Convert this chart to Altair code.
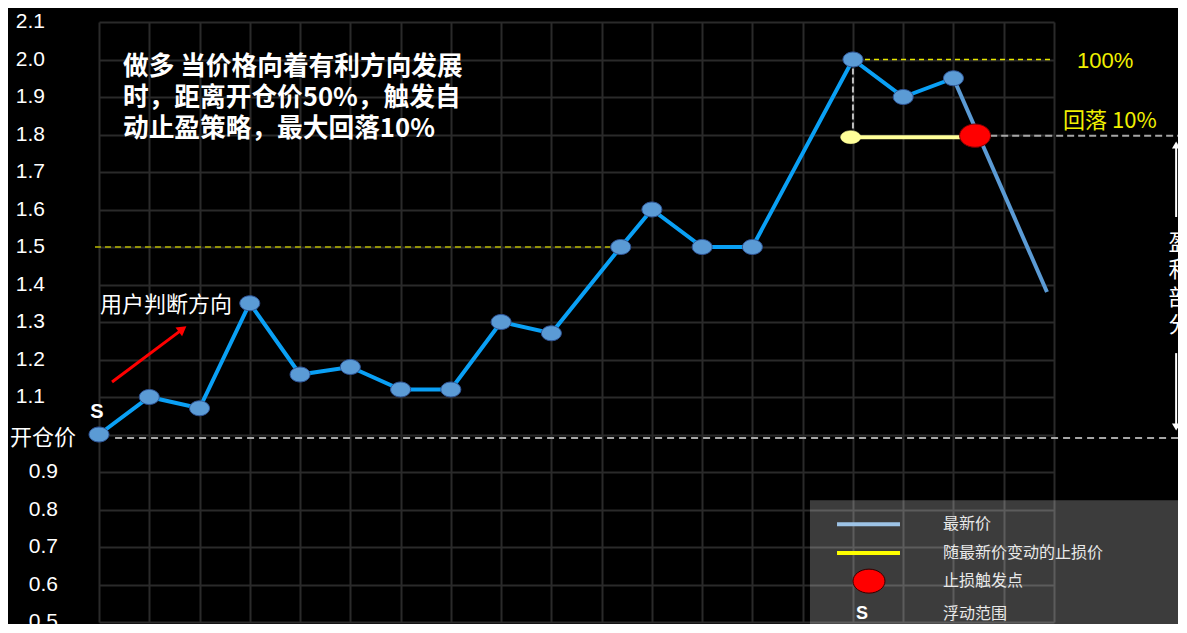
import altair as alt
import pandas as pd

# ---------------- data ----------------
price_x = [0, 1, 2, 3, 4, 5, 6, 7, 8, 9, 10.38, 11, 12, 13, 15, 16, 17]
price_y = [1.0, 1.1, 1.07, 1.35, 1.16, 1.18, 1.12, 1.12, 1.3, 1.27, 1.5, 1.6, 1.5, 1.5, 2.0, 1.9, 1.95]
tail_x = [17, 18.86]
tail_y = [1.95, 1.38]
stop_x = [14.955, 17.43]
stop_y = [1.793, 1.793]
stop_start_x = [14.955]
stop_start_y = [1.793]
trigger_x = [17.43]
trigger_y = [1.797]

grid_x = list(range(20))
grid_y = [0.5, 0.6, 0.7, 0.8, 0.9, 1.0, 1.1, 1.2, 1.3, 1.4, 1.5, 1.6, 1.7, 1.8, 1.9, 2.0, 2.1]
ytick_upper = ["2.1", "2.0", "1.9", "1.8", "1.7", "1.6", "1.5", "1.4", "1.3", "1.2", "1.1"]
ytick_lower = ["0.9", "0.8", "0.7", "0.6", "0.5"]

title_text = "做多 当价格向着有利方向发展\n时，距离开仓价50%，触发自\n动止盈策略，最大回落10%"
legend_labels = ["最新价", "随最新价变动的止损价", "止损触发点", "浮动范围"]

# ---------------- scales / axes ----------------
XS = alt.Scale(domain=[0, 19], nice=False, zero=False)
YS = alt.Scale(domain=[0.5, 2.1], nice=False, zero=False)
XA = alt.Axis(values=grid_x, labels=False, ticks=False, domain=False, grid=True,
              gridColor="#2a2a2a", gridWidth=2, title=None)
YA = alt.Axis(values=grid_y, labels=False, ticks=False, domain=False, grid=True,
              gridColor="#2a2a2a", gridWidth=2, title=None)


def X(f="x"):
    return alt.X(f"{f}:Q", scale=XS, axis=XA)


def Y(f="y"):
    return alt.Y(f"{f}:Q", scale=YS, axis=YA)


ELL75 = ("M-1,0C-1,-0.414,-0.552,-0.75,0,-0.75C0.552,-0.75,1,-0.414,1,0"
         "C1,0.414,0.552,0.75,0,0.75C-0.552,0.75,-1,0.414,-1,0Z")
ELL65 = ("M-1,0C-1,-0.359,-0.552,-0.65,0,-0.65C0.552,-0.65,1,-0.359,1,0"
         "C1,0.359,0.552,0.65,0,0.65C-0.552,0.65,-1,0.359,-1,0Z")


def rules(x, x2, y, y2, **kw):
    df = pd.DataFrame({"x": x, "x2": x2, "y": y, "y2": y2})
    return alt.Chart(df).mark_rule(**kw).encode(
        x=X("x"), x2=alt.X2("x2:Q"), y=Y("y"), y2=alt.Y2("y2:Q"))


def texts(x, y, t, **kw):
    df = pd.DataFrame({"x": x, "y": y, "t": t})
    return alt.Chart(df).mark_text(**kw).encode(x=X("x"), y=Y("y"), text="t:N")


def pts(x, y, **kw):
    df = pd.DataFrame({"x": x, "y": y})
    return alt.Chart(df).mark_point(**kw).encode(x=X("x"), y=Y("y"))


def line(x, y, **kw):
    df = pd.DataFrame({"x": x, "y": y, "o": list(range(len(x)))})
    return alt.Chart(df).mark_line(**kw).encode(x=X("x"), y=Y("y"), order="o:Q")


layers = []

# dashed reference lines
layers.append(rules([-0.08], [10.17], [1.5], [1.5], color="#b8b800", strokeWidth=1.5, strokeDash=[6, 4]))
layers.append(rules([15.24], [19.0], [2.0], [2.0], color="#e6e600", strokeWidth=1.5, strokeDash=[5, 4]))
layers.append(rules([17.73], [21.7], [1.797], [1.797], color="#a6a6a6", strokeWidth=2, strokeDash=[7, 4]))
layers.append(rules([0.32], [21.7], [0.991], [0.991], color="#a6a6a6", strokeWidth=2, strokeDash=[7, 5]))
layers.append(rules([15.0], [15.0], [2.0], [1.81], color="#bfbfbf", strokeWidth=2, strokeDash=[6, 3]))

# price lines
layers.append(line(price_x, price_y, color="#0aa0f5", strokeWidth=4))
layers.append(line(tail_x, tail_y, color="#5b9bd5", strokeWidth=4))
layers.append(line(stop_x, stop_y, color="#ffff99", strokeWidth=4))

# markers
layers.append(pts(price_x, price_y, shape=ELL75, size=400, filled=True, fill="#5b9bd5",
                  stroke="#2f5597", strokeWidth=1, opacity=1))
layers.append(pts(stop_start_x, stop_start_y, shape=ELL65, size=400, filled=True, fill="#ffff99",
                  stroke="#ffff99", strokeWidth=0.5, opacity=1))
layers.append(pts(trigger_x, trigger_y, shape=ELL75, size=961, filled=True, fill="#ff0000",
                  stroke="#7a0000", strokeWidth=1, opacity=1))

# red direction arrow
layers.append(rules([0.259], [1.663], [1.14], [1.281], color="#ff0000", strokeWidth=3))
layers.append(pts([1.663], [1.281], shape="triangle-up", size=120, angle=53, filled=True,
                  color="#ff0000", opacity=1))

# right side vertical arrows
layers.append(rules([21.43], [21.43], [1.772], [1.58], color="#ffffff", strokeWidth=2))
layers.append(pts([21.43], [1.772], shape="triangle-up", size=70, filled=True, color="#ffffff", opacity=1))
layers.append(rules([21.43], [21.43], [1.217], [1.02], color="#ffffff", strokeWidth=2))
layers.append(pts([21.43], [1.02], shape="triangle-down", size=70, filled=True, color="#ffffff", opacity=1))

# y tick labels
layers.append(texts([-1.074] * len(ytick_upper), [float(v) for v in ytick_upper], ytick_upper,
                    align="right", baseline="middle", fontSize=21, font="Liberation Sans", color="#ffffff"))
layers.append(texts([-0.816] * len(ytick_lower), [float(v) for v in ytick_lower], ytick_lower,
                    align="right", baseline="middle", fontSize=21, font="Liberation Sans", color="#ffffff"))

CJK = "Noto Sans CJK SC"
# annotations
layers.append(texts([0.477], [1.98], [title_text], align="left", baseline="middle", fontSize=25.7,
                    fontWeight="bold", font=CJK, color="#ffffff", lineBreak="\n", lineHeight=31))
layers.append(texts([0.02], [1.345], ["用户判断方向"], align="left", baseline="middle", fontSize=22,
                    font=CJK, color="#ffffff"))
layers.append(texts([-1.771], [0.991], ["开仓价"], align="left", baseline="middle", fontSize=22,
                    font=CJK, color="#ffffff"))
layers.append(texts([-0.04], [1.06], ["S"], align="center", baseline="middle", fontSize=20,
                    fontWeight="bold", font="Liberation Sans", color="#ffffff"))
layers.append(texts([19.458], [1.996], ["100%"], align="left", baseline="middle", fontSize=22,
                    font="Liberation Sans", color="#f0f000"))
layers.append(texts([19.18], [1.836], ["回落 10%"], align="left", baseline="middle", fontSize=22,
                    font=CJK, color="#f0f000"))
layers.append(texts([21.28], [1.511], ["盈\n利\n部\n分"], align="left", baseline="middle", fontSize=22,
                    font=CJK, color="#ffffff", lineBreak="\n", lineHeight=27.5))

# legend box
legend_box = pd.DataFrame({"x": [14.145], "x2": [21.7], "y": [0.825], "y2": [0.45]})
layers.append(alt.Chart(legend_box).mark_rect(color="#ffffff", opacity=0.235).encode(
    x=X("x"), x2=alt.X2("x2:Q"), y=Y("y"), y2=alt.Y2("y2:Q")))
layers.append(rules([14.683], [15.936], [0.761], [0.761], color="#9dc3e6", strokeWidth=4))
layers.append(rules([14.683], [15.936], [0.684], [0.684], color="#ffff00", strokeWidth=4))
layers.append(pts([15.319], [0.609], shape=ELL75, size=1024, filled=True, fill="#ff0000",
                  stroke="#330000", strokeWidth=1, opacity=1))
layers.append(texts([15.18], [0.521], ["S"], align="center", baseline="middle", fontSize=18,
                    fontWeight="bold", font="Liberation Sans", color="#ffffff"))
layers.append(texts([16.79] * 4, [0.761, 0.684, 0.609, 0.521], legend_labels, align="left",
                    baseline="middle", fontSize=16, font=CJK, color="#e8e8e8"))

chart = alt.layer(*layers).properties(
    width=955,
    height=600,
    background="#000000",
    autosize=alt.AutoSizeParams(type="none"),
    padding={"left": 91, "top": 14, "right": 124, "bottom": 2},
).configure_view(stroke=None)

chart.save("out.html", embed_options={"renderer": "svg", "actions": False})
